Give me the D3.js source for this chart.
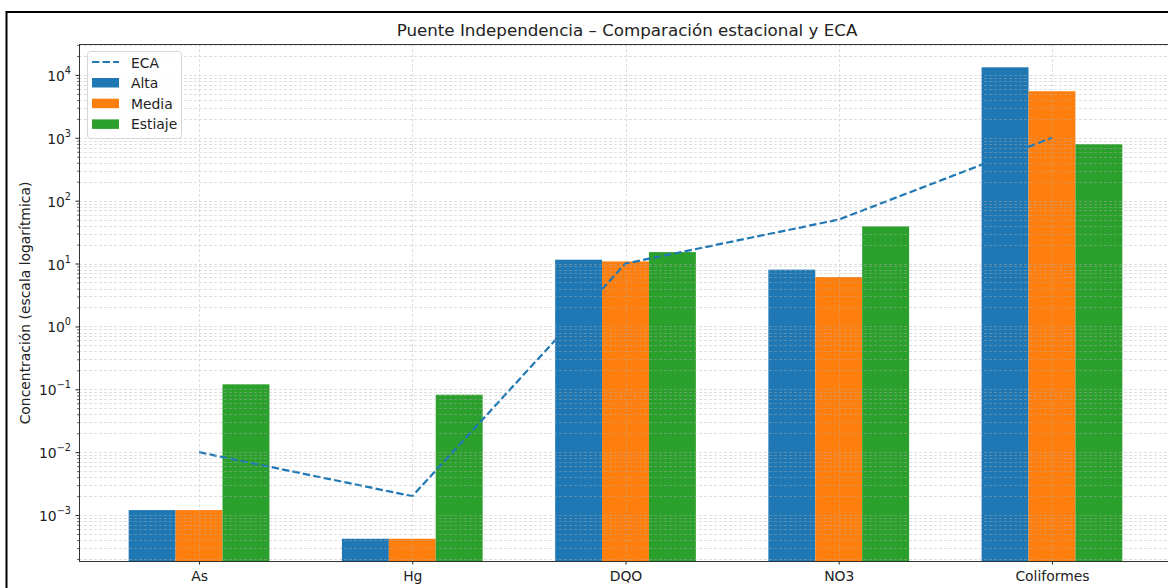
<!DOCTYPE html>
<html>
<head>
<meta charset="utf-8">
<script src="https://cdn.jsdelivr.net/npm/d3@7"></script>
<style>
body { margin: 0; background: #fff; }
svg { font-family: "DejaVu Sans", sans-serif; }
</style>
</head>
<body>
<svg id="chart" width="1168" height="588"></svg>
<script>
var categories = ["As", "Hg", "DQO", "NO3", "Coliformes"];
var seriesNames = ["Alta", "Media", "Estiaje"];
var alta = [0.0012, 0.00042, 11.5, 8, 13200];
var media = [0.0012, 0.00042, 10.8, 6.1, 5500];
var estiaje = [0.12, 0.082, 15.2, 39, 790];
var eca = [0.01, 0.002, 10, 50, 1000];
var decades = [-3, -2, -1, 0, 1, 2, 3, 4];
var colors = ["#1f77b4", "#ff7f0e", "#2ca02c"];

var svg = d3.select("#chart");
var margin = {left: 79, top: 44, right: 1172, bottom: 561};
var barW = 0.22;
var fs = 13.9;

var x = d3.scaleLinear()
	.domain([-0.33 - 0.233, 4.33 + 0.233])
	.range([margin.left, margin.right]);
var y = d3.scaleLog()
	.domain([1.86e-4, 3.1e4])
	.range([margin.bottom, margin.top]);

// figure border
svg.append("rect")
	.attr("x", 6.5).attr("y", 12)
	.attr("width", 1180).attr("height", 600)
	.attr("fill", "none").attr("stroke", "#000").attr("stroke-width", 2);

svg.append("text")
	.attr("x", 627)
	.attr("y", 36)
	.attr("text-anchor", "middle")
	.attr("font-size", 16.7)
	.attr("fill", "#222")
	.text("Puente Independencia – Comparación estacional y ECA");

var plot = svg.append("g");

// bars
var allSeries = [alta, media, estiaje];
for (var s = 0; s < allSeries.length; s++)
{
	plot.append("g").selectAll("rect")
		.data(allSeries[s]).enter()
		.append("rect")
		.attr("x", function(d, i){ return x(i + (s - 1) * barW - barW / 2); })
		.attr("width", x(barW) - x(0))
		.attr("y", function(d){ return y(d); })
		.attr("height", function(d){ return margin.bottom - y(d); })
		.attr("fill", colors[s]);
}

// ECA line
var line = d3.line()
	.x(function(d, i){ return x(i); })
	.y(function(d){ return y(d); });
plot.append("path")
	.datum(eca)
	.attr("d", line)
	.attr("fill", "none")
	.attr("stroke", "#1f77b4")
	.attr("stroke-width", 2.2)
	.attr("stroke-dasharray", "7.4,3.2");

// grid (drawn over the bars, as in the original)
var minorVals = [];
for (var k = -4; k <= 4; k++)
{
	for (var m = 2; m <= 9; m++)
	{
		var v = m * Math.pow(10, k);
		if (v >= y.domain()[0] && v <= y.domain()[1]) minorVals.push(v);
	}
}
var majorVals = decades.map(function(e){ return Math.pow(10, e); });
var grid = svg.append("g")
	.attr("stroke", "#b0b0b0")
	.attr("stroke-opacity", 0.5)
	.attr("stroke-width", 0.8)
	.attr("stroke-dasharray", "3,2");
grid.selectAll("line.h")
	.data(majorVals.concat(minorVals)).enter()
	.append("line")
	.attr("x1", margin.left).attr("x2", margin.right)
	.attr("y1", function(d){ return Math.round(y(d)) + 0.5; })
	.attr("y2", function(d){ return Math.round(y(d)) + 0.5; });
grid.selectAll("line.v")
	.data(categories).enter()
	.append("line")
	.attr("x1", function(d, i){ return Math.round(x(i)) + 0.5; })
	.attr("x2", function(d, i){ return Math.round(x(i)) + 0.5; })
	.attr("y1", margin.top).attr("y2", margin.bottom);

// axes
var yAxis = svg.append("g")
	.attr("transform", "translate(" + margin.left + ",0)")
	.call(d3.axisLeft(y).tickValues(majorVals).tickSize(3.5).tickFormat(""));
yAxis.select(".domain").remove();
yAxis.selectAll(".tick line").attr("stroke", "#222");

var yMinor = svg.append("g")
	.attr("transform", "translate(" + margin.left + ",0)")
	.call(d3.axisLeft(y).tickValues(minorVals).tickSize(2).tickFormat(""));
yMinor.select(".domain").remove();
yMinor.selectAll(".tick line").attr("stroke", "#222").attr("stroke-width", 0.7);

var yLabels = svg.append("g");
yLabels.selectAll("text")
	.data(decades).enter()
	.append("text")
	.attr("x", margin.left - 8)
	.attr("y", function(e){ return y(Math.pow(10, e)) + 6; })
	.attr("text-anchor", "end")
	.attr("font-size", fs)
	.attr("fill", "#222")
	.each(function(e){
		var t = d3.select(this);
		t.append("tspan").text("10");
		t.append("tspan")
			.attr("dy", -7)
			.attr("font-size", 9.7)
			.text(e < 0 ? "\u2212" + (-e) : String(e));
	});

var xAxis = svg.append("g")
	.attr("transform", "translate(0," + margin.bottom + ")")
	.call(d3.axisBottom(x).tickValues([0, 1, 2, 3, 4]).tickSize(3.5).tickPadding(7)
		.tickFormat(function(d){ return categories[d]; }));
xAxis.select(".domain").remove();
xAxis.selectAll(".tick line").attr("stroke", "#222");
xAxis.selectAll(".tick text").attr("font-size", fs).attr("fill", "#222")
	.attr("font-family", "DejaVu Sans, sans-serif");

// spines
var spines = svg.append("g").attr("stroke", "#333").attr("stroke-width", 1).attr("fill", "none");
spines.append("rect")
	.attr("x", margin.left + 0.5).attr("y", margin.top + 0.5)
	.attr("width", margin.right - margin.left).attr("height", margin.bottom - margin.top);

svg.append("text")
	.attr("transform", "translate(30," + 303 + ") rotate(-90)")
	.attr("text-anchor", "middle")
	.attr("font-size", fs)
	.attr("fill", "#222")
	.text("Concentración (escala logarítmica)");

// legend
var legend = svg.append("g").attr("transform", "translate(87,51)");
legend.append("rect")
	.attr("x", 0.5).attr("y", 0.5).attr("width", 94).attr("height", 87)
	.attr("rx", 3)
	.attr("fill", "#fff").attr("fill-opacity", 0.8)
	.attr("stroke", "#d6d6d6");
legend.append("line")
	.attr("x1", 5).attr("x2", 32).attr("y1", 11).attr("y2", 11)
	.attr("stroke", "#1f77b4").attr("stroke-width", 2.2)
	.attr("stroke-dasharray", "7.4,3.2");
legend.append("text").attr("x", 44).attr("y", 16.5).attr("font-size", fs).attr("fill", "#222").text("ECA");
legend.selectAll("rect.sw")
	.data(seriesNames).enter()
	.append("rect")
	.attr("class", "sw")
	.attr("x", 5).attr("width", 27)
	.attr("y", function(d, i){ return 27 + i * 20.7; })
	.attr("height", 9.5)
	.attr("fill", function(d, i){ return colors[i]; });
legend.selectAll("text.lab")
	.data(seriesNames).enter()
	.append("text")
	.attr("class", "lab")
	.attr("x", 44)
	.attr("y", function(d, i){ return 37 + i * 20.7; })
	.attr("font-size", fs)
	.attr("fill", "#222")
	.text(function(d){ return d; });
</script>
</body>
</html>
